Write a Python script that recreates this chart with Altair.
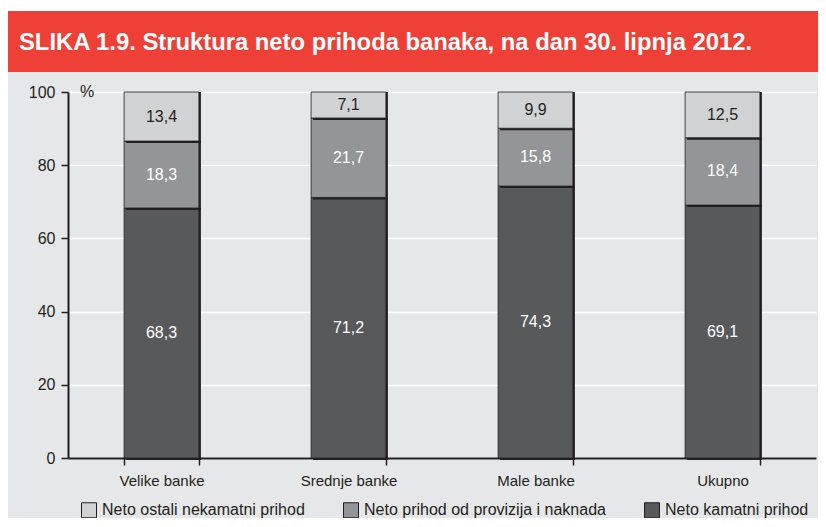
import altair as alt
import pandas as pd

# ---- data -------------------------------------------------------------
TITLE = "SLIKA 1.9. Struktura neto prihoda banaka, na dan 30. lipnja 2012."
UNIT = "%"
categories = ["Velike banke", "Srednje banke", "Male banke", "Ukupno"]
series = [
    "Neto ostali nekamatni prihod",
    "Neto prihod od provizija i naknada",
    "Neto kamatni prihod",
]
ostali = [13.4, 7.1, 9.9, 12.5]
provizija = [18.3, 21.7, 15.8, 18.4]
kamatni = [68.3, 71.2, 74.3, 69.1]
y_ticks = [0, 20, 40, 60, 80, 100]

# ---- style -------------------------------------------------------------
FONT = "Liberation Sans"
RED = "#ee4036"
BG = "#e6e7e8"
DARK_TXT = "#231f20"
C_LIGHT, C_MID, C_DARK = "#d1d2d4", "#939598", "#58595b"

rows = []
stack_order = [(series[2], kamatni, 0), (series[1], provizija, 1), (series[0], ostali, 2)]
for i, c in enumerate(categories):
    for s, vals, o in stack_order:
        v = vals[i]
        rows.append(dict(kat=c, serija=s, vrijednost=v, red=o,
                         oznaka=f"{v:.1f}".replace(".", ",")))
df = pd.DataFrame(rows)

base = alt.Chart(df).transform_stack(
    stack="vrijednost", groupby=["kat"], as_=["y0", "y1"],
    sort=[alt.SortField("red", order="ascending")],
).transform_calculate(mid="(datum.y0 + datum.y1) / 2")

x_axis = alt.Axis(title=None, labelAngle=0, tickBand="extent", grid=False,
                  domainColor=DARK_TXT, domainWidth=2, tickColor=DARK_TXT,
                  tickWidth=1.5, tickSize=7, labelPadding=8, labelFontSize=15,
                  labelFont=FONT, labelColor=DARK_TXT)
y_axis = alt.Axis(title=None, values=y_ticks, grid=True, gridColor="white",
                  gridWidth=1.5, domainColor=DARK_TXT, domainWidth=2,
                  tickColor=DARK_TXT, tickWidth=1.5, tickSize=7, labelPadding=6,
                  labelFontSize=16, labelFont=FONT, labelColor=DARK_TXT)
x_scale = alt.Scale(paddingInner=0.6, paddingOuter=0.3)
y_scale = alt.Scale(domain=[0, 100], nice=False)

X = alt.X("kat:N", sort=categories, scale=x_scale, axis=x_axis)

color = alt.Color(
    "serija:N",
    scale=alt.Scale(domain=series, range=[C_LIGHT, C_MID, C_DARK]),
    legend=alt.Legend(
        title=None, orient="none", legendX=13, legendY=410,
        direction="horizontal", symbolType="square", symbolSize=225,
        symbolStrokeColor=DARK_TXT, symbolStrokeWidth=1, symbolOpacity=1,
        labelFontSize=16, labelFont=FONT, labelColor=DARK_TXT,
        labelOffset=5, columnPadding=36, padding=0, labelLimit=400,
    ),
)

layers = []
# header decorations
one = alt.Data(values=[{}])
layers.append(alt.Chart(one).mark_rect(color="white").encode(
    x=alt.value(-60), x2=alt.value(760), y=alt.value(-90), y2=alt.value(-81)))
layers.append(alt.Chart(one).mark_rect(color=RED).encode(
    x=alt.value(-60), x2=alt.value(760), y=alt.value(-81), y2=alt.value(-20)))
layers.append(alt.Chart(one).mark_text(
    text=TITLE, font=FONT, fontSize=23.8, fontWeight="bold", color="white",
    align="left", baseline="alphabetic").encode(x=alt.value(-49), y=alt.value(-42)))
layers.append(alt.Chart(one).mark_text(
    text=UNIT, font=FONT, fontSize=16, color=DARK_TXT,
    align="left", baseline="alphabetic").encode(x=alt.value(12), y=alt.value(5)))

for s, _, _ in stack_order:
    sub = base.transform_filter(alt.datum.serija == s)
    layers.append(sub.mark_bar(color=DARK_TXT, xOffset=2, yOffset=2).encode(
        x=X, y=alt.Y("y0:Q", scale=y_scale, axis=y_axis), y2="y1:Q"))
    layers.append(sub.mark_bar(stroke=DARK_TXT, strokeWidth=0.8, opacity=1).encode(
        x=X, y=alt.Y("y0:Q", scale=y_scale, axis=y_axis), y2="y1:Q", color=color))

layers.append(base.mark_text(font=FONT, fontSize=16, baseline="middle").encode(
    x=X, y=alt.Y("mid:Q", scale=y_scale, axis=y_axis), text="oznaka:N",
    color=alt.condition(alt.datum.serija == series[0],
                        alt.value(DARK_TXT), alt.value("white"))))

chart = alt.layer(*layers).properties(
    width=748, height=366,
    autosize=alt.AutoSizeParams(type="none"),
    padding={"left": 60, "top": 84, "right": 2, "bottom": 60},
    background=BG,
).configure_view(strokeWidth=0)

chart.save("out.html", embed_options={"renderer": "svg", "actions": False})
